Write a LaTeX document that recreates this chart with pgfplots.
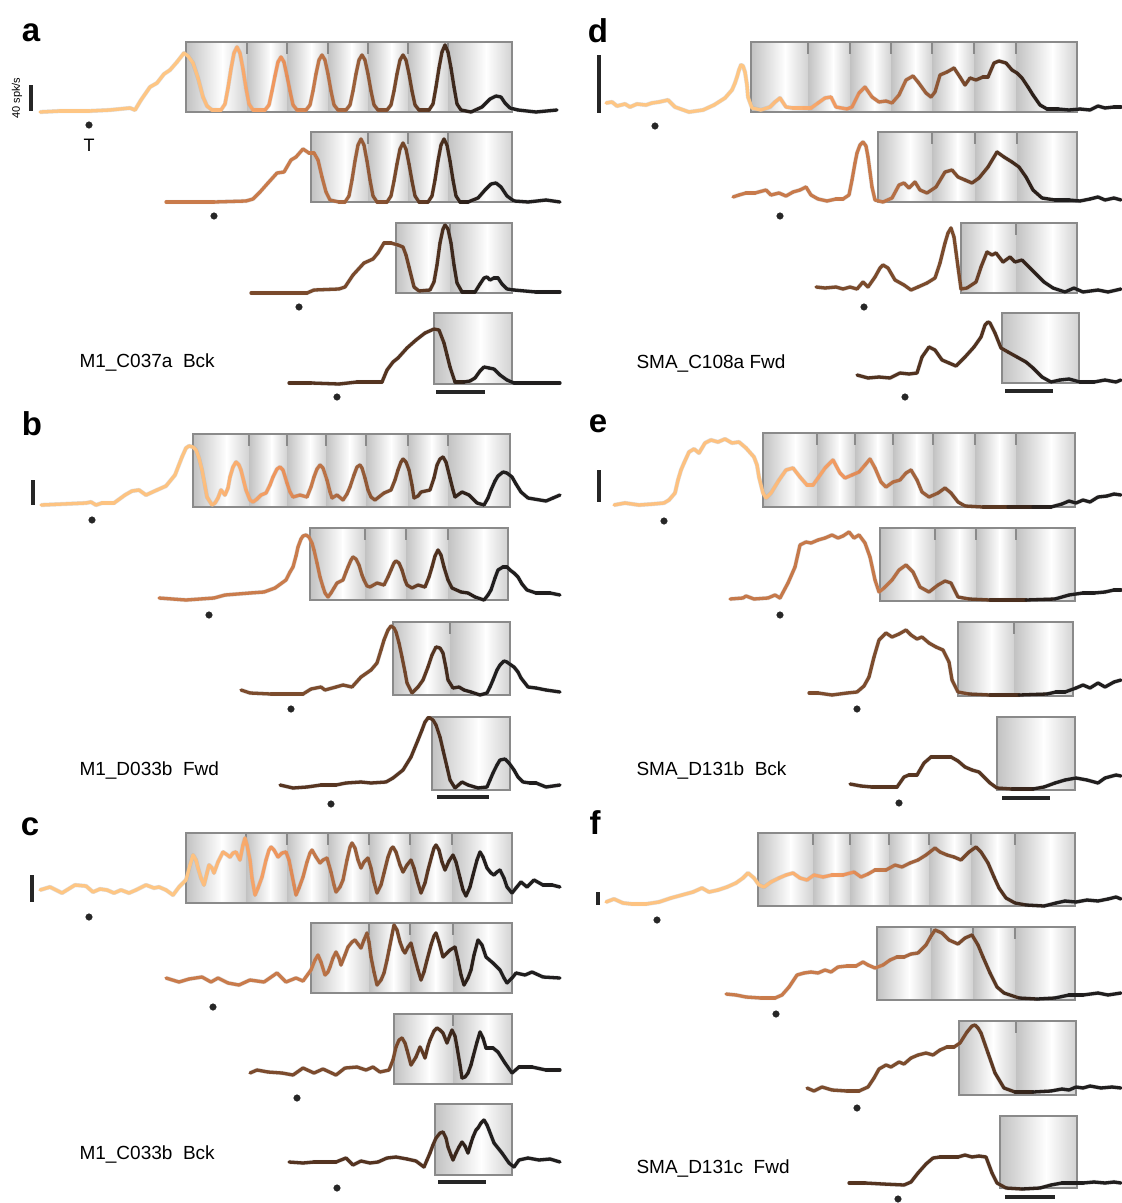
\documentclass[border=0pt]{standalone}
\usepackage{pgfplots}
\usepackage{pgfplotstable}
\pgfplotsset{compat=1.18}
\usepackage{fontspec}
\setmainfont{Liberation Sans}

\definecolor{boxL}{RGB}{194,194,194}
\definecolor{boxR}{RGB}{210,210,210}
\definecolor{boxedge}{RGB}{138,138,138}
\definecolor{semband}{RGB}{175,175,178}

% ---------- firing-rate traces (x: time, y: rate, both in figure units) ----------
\pgfplotstableread[row sep=\\]{x y\\
40 112\\ 60 111\\ 89 111\\ 110 110\\ 130 108\\ 135 110\\ 141 100\\ 150 87\\ 157 83\\ 164 74\\ 170 70\\ 177 62\\ 184 53\\ 188 56\\ 193 63\\ 198 78\\ 203 97\\ 207 106\\ 212 110\\
221 110\\ 225 104\\ 228 88\\ 231 69\\ 234 53\\ 237 47\\ 240 53\\ 243 69\\ 246 88\\ 249 104\\ 253 110\\
265 110\\ 269 105\\ 272 91\\ 275 76\\ 278 62\\ 281 57\\ 284 62\\ 287 76\\ 290 91\\ 293 105\\ 297 110\\
306 110\\ 310 105\\ 313 91\\ 316 74\\ 319 60\\ 322 55\\ 325 60\\ 328 74\\ 331 91\\ 334 105\\ 338 110\\
346 110\\ 350 105\\ 353 91\\ 356 74\\ 359 60\\ 362 55\\ 365 60\\ 368 74\\ 371 91\\ 374 105\\ 378 110\\
387 110\\ 391 105\\ 394 91\\ 397 74\\ 400 60\\ 403 55\\ 406 60\\ 409 74\\ 412 91\\ 415 105\\ 419 110\\
429 110\\ 433 104\\ 436 87\\ 439 68\\ 442 52\\ 445 45\\ 448 52\\ 451 68\\ 454 87\\ 457 104\\ 461 110\\
471 112\\ 482 107\\ 490 99\\ 496 96\\ 501 97\\ 505 103\\ 510 108\\ 518 110\\ 536 112\\ 557 110\\
}\aA
\pgfplotstableread[row sep=\\]{x y\\
166 202\\ 214 202\\ 246 201\\ 253 199\\ 260 192\\ 268 183\\ 277 173\\ 284 172\\ 291 160\\ 296 157\\ 303 149\\ 309 153\\ 314 153\\ 318 160\\ 322 177\\ 326 192\\ 330 200\\ 339 202\\
345 202\\ 349 196\\ 352 180\\ 355 161\\ 358 145\\ 361 139\\ 364 145\\ 367 161\\ 370 180\\ 373 196\\ 377 202\\
387 202\\ 391 196\\ 394 181\\ 397 164\\ 400 149\\ 403 143\\ 406 149\\ 409 164\\ 412 181\\ 415 196\\ 419 202\\
428 202\\ 432 196\\ 435 180\\ 438 161\\ 441 145\\ 444 139\\ 447 145\\ 450 161\\ 453 180\\ 456 196\\ 460 202\\
468 202\\ 478 198\\ 485 190\\ 491 184\\ 496 183\\ 501 187\\ 507 196\\ 514 201\\ 528 202\\ 546 200\\ 560 202\\
}\aB
\pgfplotstableread[row sep=\\]{x y\\
251 293\\ 307 293\\ 314 290\\ 339 289\\ 345 287\\ 353 275\\ 364 263\\ 373 259\\ 378 253\\ 384 243\\ 391 243\\ 398 245\\ 403 247\\ 406 255\\ 409 267\\ 414 287\\ 419 291\\ 430 290\\ 434 282\\ 437 265\\ 440 243\\ 443 229\\ 445 225\\ 448 229\\ 451 243\\ 454 265\\ 457 283\\ 462 292\\ 475 292\\ 480 284\\ 484 278\\ 487 277\\ 490 280\\ 494 278\\ 498 278\\ 502 284\\ 507 289\\ 514 290\\ 536 292\\ 560 292\\
}\aC
\pgfplotstableread[row sep=\\]{x y\\
289 383\\ 311 383\\ 339 384\\ 357 382\\ 382 382\\ 387 370\\ 393 362\\ 398 358\\ 407 348\\ 416 340\\ 425 333\\ 434 329\\ 439 330\\ 444 343\\ 447 355\\ 450 367\\ 455 382\\ 464 382\\ 470 381\\ 475 378\\ 480 371\\ 484 367\\ 489 368\\ 494 369\\ 500 375\\ 507 380\\ 514 383\\ 560 383\\
}\aD
\pgfplotstableread[row sep=\\]{x y\\
41 505\\ 86 503\\ 91 502\\ 96 505\\ 102 503\\ 114 503\\ 125 495\\ 132 491\\ 139 490\\ 146 495\\ 157 490\\ 166 486\\ 175 475\\ 182 457\\ 186 448\\ 189 446\\ 193 447\\ 196 450\\ 199 458\\ 202 470\\ 205 486\\ 207 497\\ 212 505\\ 215 503\\ 218 498\\ 221 490\\ 225 495\\ 228 488\\ 230 477\\ 233 467\\ 236 462\\ 239 465\\ 241 470\\ 244 482\\ 246 490\\ 250 500\\ 253 502\\ 257 499\\ 261 495\\ 266 493\\ 270 485\\ 273 477\\ 277 469\\ 280 467\\ 283 470\\ 287 483\\ 290 492\\ 293 497\\ 300 495\\ 307 497\\ 311 487\\ 314 477\\ 317 469\\ 320 465\\ 323 468\\ 327 480\\ 330 492\\ 332 498\\ 337 495\\ 343 500\\ 347 494\\ 350 487\\ 354 475\\ 357 467\\ 360 465\\ 362 468\\ 365 478\\ 368 490\\ 371 497\\ 375 500\\ 384 493\\ 391 490\\ 395 480\\ 398 470\\ 401 462\\ 403 459\\ 406 462\\ 409 470\\ 412 485\\ 414 498\\ 418 496\\ 421 492\\ 430 490\\ 434 478\\ 437 465\\ 440 459\\ 443 457\\ 446 462\\ 450 478\\ 453 490\\ 455 497\\ 462 492\\ 469 495\\ 477 503\\ 484 505\\ 488 498\\ 491 490\\ 495 481\\ 498 476\\ 503 472\\ 507 473\\ 512 477\\ 516 484\\ 521 492\\ 528 498\\ 546 501\\ 553 498\\ 560 495\\
}\bA
\pgfplotstableread[row sep=\\]{x y\\
159 598\\ 186 600\\ 214 598\\ 225 595\\ 250 593\\ 264 592\\ 275 588\\ 286 580\\ 290 572\\ 293 567\\ 296 556\\ 298 547\\ 301 539\\ 303 536\\ 306 535\\ 309 537\\ 312 543\\ 314 550\\ 317 563\\ 320 577\\ 323 587\\ 325 593\\ 328 597\\ 331 593\\ 334 588\\ 337 583\\ 343 580\\ 346 572\\ 348 567\\ 351 560\\ 353 557\\ 356 559\\ 359 565\\ 362 575\\ 364 580\\ 367 586\\ 370 587\\ 377 583\\ 384 585\\ 388 577\\ 391 570\\ 394 563\\ 396 561\\ 399 563\\ 402 570\\ 405 580\\ 407 585\\ 412 588\\ 418 585\\ 425 587\\ 429 577\\ 432 567\\ 435 556\\ 438 550\\ 441 555\\ 444 567\\ 448 580\\ 452 588\\ 461 592\\ 468 593\\ 475 597\\ 484 600\\ 488 595\\ 491 590\\ 495 578\\ 498 570\\ 503 567\\ 507 567\\ 510 570\\ 514 573\\ 518 577\\ 522 584\\ 527 590\\ 536 593\\ 550 593\\ 560 595\\
}\bB
\pgfplotstableread[row sep=\\]{x y\\
241 690\\ 250 693\\ 271 694\\ 303 694\\ 311 689\\ 321 687\\ 325 690\\ 336 687\\ 343 685\\ 352 687\\ 361 677\\ 371 670\\ 377 663\\ 381 650\\ 384 640\\ 388 630\\ 391 626\\ 394 628\\ 396 632\\ 399 643\\ 402 657\\ 405 672\\ 407 683\\ 412 693\\ 418 687\\ 423 680\\ 428 667\\ 432 655\\ 436 647\\ 440 648\\ 443 653\\ 446 668\\ 448 680\\ 453 688\\ 459 687\\ 464 690\\ 471 692\\ 480 695\\ 487 693\\ 490 687\\ 493 680\\ 497 670\\ 500 665\\ 504 661\\ 507 662\\ 511 665\\ 514 667\\ 518 672\\ 521 678\\ 528 687\\ 536 688\\ 546 690\\ 560 692\\
}\bC
\pgfplotstableread[row sep=\\]{x y\\
280 785\\ 293 788\\ 307 787\\ 321 785\\ 336 785\\ 346 783\\ 361 782\\ 371 783\\ 386 782\\ 393 778\\ 403 770\\ 411 757\\ 418 740\\ 422 730\\ 425 722\\ 428 718\\ 430 718\\ 433 720\\ 436 725\\ 440 737\\ 443 750\\ 447 767\\ 450 780\\ 455 788\\ 462 782\\ 468 785\\ 478 788\\ 487 787\\ 490 780\\ 493 773\\ 497 765\\ 500 760\\ 505 759\\ 509 763\\ 514 770\\ 518 777\\ 523 782\\ 530 783\\ 536 783\\ 546 787\\ 560 785\\
}\bD
\pgfplotstableread[row sep=\\]{x y\\
40 890\\ 50 887\\ 62 893\\ 75 885\\ 86 886\\ 93 892\\ 100 889\\ 107 890\\ 114 893\\ 121 890\\ 129 893\\ 136 890\\ 146 885\\ 154 888\\ 159 887\\ 166 890\\ 173 895\\ 179 887\\ 186 880\\ 190 865\\ 193 855\\ 196 860\\ 198 868\\ 201 878\\ 204 885\\ 207 873\\ 209 865\\ 212 868\\ 214 873\\ 218 862\\ 223 852\\ 226 854\\ 230 857\\ 233 853\\ 236 852\\ 238 856\\ 240 860\\ 243 845\\ 245 838\\ 247 845\\ 250 860\\ 252 878\\ 255 895\\ 258 888\\ 262 877\\ 266 860\\ 269 850\\ 271 847\\ 274 850\\ 278 857\\ 282 853\\ 286 852\\ 289 860\\ 291 870\\ 294 885\\ 296 895\\ 299 888\\ 303 877\\ 307 862\\ 310 853\\ 312 850\\ 316 857\\ 320 863\\ 323 860\\ 327 858\\ 331 872\\ 334 885\\ 336 892\\ 340 887\\ 343 880\\ 347 860\\ 350 847\\ 352 843\\ 355 848\\ 358 860\\ 361 868\\ 364 862\\ 368 858\\ 371 868\\ 374 882\\ 377 893\\ 381 885\\ 384 873\\ 388 857\\ 391 849\\ 393 847\\ 396 852\\ 400 865\\ 403 872\\ 407 865\\ 411 860\\ 414 868\\ 418 883\\ 421 893\\ 425 883\\ 428 870\\ 432 855\\ 434 848\\ 436 845\\ 439 850\\ 442 862\\ 445 870\\ 449 861\\ 453 855\\ 456 862\\ 460 878\\ 463 890\\ 466 896\\ 470 887\\ 473 875\\ 477 860\\ 480 852\\ 483 857\\ 487 868\\ 491 873\\ 494 875\\ 497 872\\ 500 870\\ 504 878\\ 507 887\\ 512 893\\ 516 888\\ 521 882\\ 527 887\\ 534 880\\ 543 885\\ 552 885\\ 560 887\\
}\cA
\pgfplotstableread[row sep=\\]{x y\\
166 978\\ 179 982\\ 189 979\\ 202 977\\ 211 982\\ 218 978\\ 228 983\\ 239 985\\ 250 980\\ 264 982\\ 277 973\\ 286 982\\ 296 978\\ 303 981\\ 311 970\\ 315 960\\ 318 955\\ 321 962\\ 325 975\\ 328 972\\ 330 967\\ 333 958\\ 336 952\\ 339 958\\ 341 965\\ 345 955\\ 348 947\\ 352 942\\ 355 940\\ 358 944\\ 361 948\\ 364 940\\ 367 933\\ 369 942\\ 371 957\\ 374 972\\ 377 985\\ 381 980\\ 384 973\\ 387 960\\ 389 950\\ 392 935\\ 394 925\\ 397 930\\ 400 942\\ 403 950\\ 405 953\\ 408 947\\ 411 943\\ 414 955\\ 418 970\\ 421 980\\ 424 972\\ 427 960\\ 431 945\\ 434 936\\ 436 933\\ 439 942\\ 443 957\\ 447 953\\ 450 950\\ 455 947\\ 458 960\\ 461 975\\ 464 985\\ 468 978\\ 471 970\\ 474 955\\ 478 940\\ 482 945\\ 486 957\\ 493 963\\ 500 970\\ 504 978\\ 507 983\\ 512 978\\ 516 973\\ 525 975\\ 532 972\\ 543 977\\ 560 978\\
}\cB
\pgfplotstableread[row sep=\\]{x y\\
250 1073\\ 257 1070\\ 268 1072\\ 282 1073\\ 293 1075\\ 303 1068\\ 314 1073\\ 323 1069\\ 336 1075\\ 345 1068\\ 357 1067\\ 366 1070\\ 373 1067\\ 380 1072\\ 389 1070\\ 393 1060\\ 396 1047\\ 399 1040\\ 402 1038\\ 405 1043\\ 407 1050\\ 411 1065\\ 416 1057\\ 420 1047\\ 423 1053\\ 425 1058\\ 428 1046\\ 430 1040\\ 434 1031\\ 437 1028\\ 440 1030\\ 443 1033\\ 447 1043\\ 450 1035\\ 452 1030\\ 455 1036\\ 457 1047\\ 460 1065\\ 462 1078\\ 465 1077\\ 468 1073\\ 471 1065\\ 473 1057\\ 477 1042\\ 480 1032\\ 483 1038\\ 486 1048\\ 493 1048\\ 498 1052\\ 505 1063\\ 512 1073\\ 519 1067\\ 532 1067\\ 546 1070\\ 560 1070\\
}\cC
\pgfplotstableread[row sep=\\]{x y\\
289 1162\\ 303 1163\\ 314 1162\\ 325 1162\\ 336 1162\\ 346 1158\\ 353 1165\\ 361 1161\\ 370 1163\\ 378 1162\\ 387 1158\\ 396 1157\\ 407 1159\\ 416 1161\\ 424 1167\\ 427 1160\\ 430 1153\\ 433 1145\\ 436 1138\\ 440 1133\\ 443 1132\\ 446 1138\\ 448 1147\\ 451 1155\\ 453 1160\\ 456 1153\\ 459 1147\\ 462 1142\\ 465 1146\\ 468 1153\\ 471 1143\\ 473 1137\\ 476 1130\\ 478 1128\\ 481 1123\\ 484 1120\\ 487 1125\\ 489 1130\\ 494 1143\\ 502 1153\\ 509 1163\\ 514 1167\\ 519 1160\\ 528 1158\\ 539 1160\\ 550 1159\\ 560 1162\\
}\cD
\pgfplotstableread[row sep=\\]{x y\\
606 103\\ 612 102\\ 617 106\\ 625 104\\ 630 107\\ 637 104\\ 646 105\\ 652 103\\ 659 102\\ 668 100\\ 675 107\\ 689 112\\ 703 110\\ 714 105\\ 725 98\\ 732 90\\ 735 83\\ 737 77\\ 739 70\\ 741 65\\ 743 66\\ 745 72\\ 747 85\\ 748 97\\ 752 108\\ 761 110\\ 770 107\\ 775 102\\ 780 98\\ 786 107\\ 793 108\\ 804 108\\ 811 108\\ 818 103\\ 825 98\\ 831 97\\ 836 107\\ 847 109\\ 852 107\\ 859 93\\ 865 87\\ 872 97\\ 879 102\\ 886 101\\ 892 103\\ 899 95\\ 906 80\\ 913 76\\ 918 82\\ 926 93\\ 931 97\\ 935 92\\ 940 75\\ 947 72\\ 954 68\\ 960 77\\ 965 85\\ 970 78\\ 976 80\\ 983 77\\ 988 77\\ 994 63\\ 999 61\\ 1006 63\\ 1012 70\\ 1017 73\\ 1022 78\\ 1028 87\\ 1033 95\\ 1040 105\\ 1047 109\\ 1058 109\\ 1069 110\\ 1080 109\\ 1090 110\\ 1098 106\\ 1105 108\\ 1114 107\\ 1121 107\\
}\dA
\pgfplotstableread[row sep=\\]{x y\\
733 197\\ 739 195\\ 746 193\\ 755 193\\ 766 190\\ 771 195\\ 779 193\\ 786 196\\ 793 192\\ 800 190\\ 806 187\\ 811 195\\ 818 199\\ 827 201\\ 836 199\\ 843 199\\ 849 195\\ 852 180\\ 855 163\\ 857 153\\ 860 145\\ 863 142\\ 866 146\\ 868 157\\ 870 172\\ 872 187\\ 875 200\\ 883 202\\ 892 198\\ 899 185\\ 904 183\\ 909 188\\ 915 182\\ 920 190\\ 927 193\\ 936 187\\ 945 172\\ 952 170\\ 958 177\\ 965 180\\ 972 183\\ 979 178\\ 988 167\\ 997 152\\ 1004 157\\ 1012 162\\ 1019 167\\ 1026 177\\ 1033 190\\ 1042 198\\ 1055 200\\ 1069 200\\ 1080 201\\ 1090 199\\ 1098 197\\ 1105 200\\ 1114 198\\ 1121 200\\
}\dB
\pgfplotstableread[row sep=\\]{x y\\
816 287\\ 825 288\\ 836 287\\ 843 289\\ 850 287\\ 857 289\\ 863 282\\ 868 287\\ 875 277\\ 880 268\\ 883 265\\ 888 268\\ 895 280\\ 904 285\\ 911 290\\ 918 287\\ 927 283\\ 935 278\\ 940 263\\ 945 243\\ 948 233\\ 951 228\\ 954 237\\ 956 252\\ 958 267\\ 961 289\\ 967 288\\ 976 282\\ 981 267\\ 987 252\\ 992 255\\ 996 253\\ 1003 262\\ 1010 257\\ 1015 262\\ 1022 260\\ 1030 268\\ 1037 275\\ 1044 282\\ 1053 288\\ 1065 292\\ 1074 288\\ 1083 292\\ 1098 290\\ 1108 292\\ 1121 289\\
}\dC
\pgfplotstableread[row sep=\\]{x y\\
857 375\\ 868 378\\ 879 377\\ 890 378\\ 900 373\\ 909 374\\ 917 373\\ 922 357\\ 929 347\\ 935 350\\ 942 360\\ 949 363\\ 956 366\\ 965 357\\ 974 347\\ 981 337\\ 985 325\\ 988 322\\ 990 323\\ 995 333\\ 1001 348\\ 1008 352\\ 1017 357\\ 1026 362\\ 1033 368\\ 1042 377\\ 1051 382\\ 1060 380\\ 1069 379\\ 1080 382\\ 1094 382\\ 1105 380\\ 1116 382\\ 1121 380\\
}\dD
\pgfplotstableread[row sep=\\]{x y\\
614 505\\ 625 503\\ 639 505\\ 653 504\\ 664 503\\ 669 500\\ 675 493\\ 678 480\\ 681 470\\ 684 463\\ 689 452\\ 694 449\\ 699 453\\ 705 443\\ 711 440\\ 718 442\\ 725 439\\ 732 443\\ 739 442\\ 746 448\\ 754 457\\ 757 465\\ 759 477\\ 763 493\\ 766 498\\ 771 493\\ 779 480\\ 786 470\\ 793 468\\ 800 477\\ 807 485\\ 813 485\\ 818 478\\ 825 468\\ 833 460\\ 840 473\\ 845 478\\ 852 475\\ 859 472\\ 865 465\\ 870 459\\ 875 468\\ 881 482\\ 886 487\\ 893 482\\ 900 480\\ 906 473\\ 911 470\\ 917 480\\ 922 492\\ 929 497\\ 938 493\\ 945 488\\ 951 493\\ 958 502\\ 965 506\\ 983 507\\ 1008 507\\ 1033 507\\ 1051 507\\ 1062 504\\ 1069 501\\ 1076 503\\ 1083 500\\ 1090 502\\ 1098 497\\ 1107 496\\ 1114 494\\ 1121 495\\
}\eA
\pgfplotstableread[row sep=\\]{x y\\
730 599\\ 743 598\\ 746 596\\ 754 599\\ 768 598\\ 775 595\\ 780 598\\ 788 583\\ 795 567\\ 800 545\\ 806 542\\ 811 543\\ 818 540\\ 825 538\\ 832 535\\ 838 538\\ 843 536\\ 849 532\\ 854 538\\ 859 535\\ 865 543\\ 870 557\\ 875 580\\ 879 592\\ 884 588\\ 892 580\\ 899 570\\ 906 565\\ 913 572\\ 920 587\\ 929 592\\ 938 585\\ 945 581\\ 951 583\\ 958 597\\ 969 599\\ 990 600\\ 1026 600\\ 1055 599\\ 1069 595\\ 1083 593\\ 1094 593\\ 1105 592\\ 1114 590\\ 1121 590\\
}\eB
\pgfplotstableread[row sep=\\]{x y\\
809 693\\ 818 693\\ 832 695\\ 847 693\\ 857 692\\ 864 686\\ 869 677\\ 874 657\\ 879 640\\ 886 633\\ 892 637\\ 899 634\\ 906 630\\ 911 635\\ 917 639\\ 922 637\\ 929 643\\ 936 647\\ 943 650\\ 949 662\\ 952 680\\ 958 692\\ 969 694\\ 990 695\\ 1019 695\\ 1047 694\\ 1056 692\\ 1065 692\\ 1076 688\\ 1083 685\\ 1090 688\\ 1098 683\\ 1105 687\\ 1114 682\\ 1121 680\\
}\eC
\pgfplotstableread[row sep=\\]{x y\\
850 784\\ 861 786\\ 872 787\\ 886 787\\ 897 787\\ 904 777\\ 909 775\\ 917 775\\ 924 763\\ 931 757\\ 940 757\\ 951 757\\ 958 761\\ 965 767\\ 972 770\\ 979 772\\ 985 778\\ 990 783\\ 997 788\\ 1012 789\\ 1033 789\\ 1044 787\\ 1055 783\\ 1065 780\\ 1076 778\\ 1087 780\\ 1098 783\\ 1105 778\\ 1116 775\\ 1121 776\\
}\eD
\pgfplotstableread[row sep=\\]{x y\\
606 902\\ 614 899\\ 623 903\\ 632 904\\ 646 904\\ 659 902\\ 671 898\\ 682 895\\ 693 892\\ 702 888\\ 709 892\\ 718 890\\ 727 887\\ 736 883\\ 743 878\\ 748 873\\ 754 878\\ 759 885\\ 764 887\\ 771 882\\ 779 878\\ 786 875\\ 793 873\\ 800 878\\ 807 880\\ 814 875\\ 823 877\\ 832 875\\ 843 875\\ 854 872\\ 861 877\\ 868 874\\ 875 870\\ 886 870\\ 895 865\\ 902 867\\ 910 863\\ 918 860\\ 926 855\\ 935 848\\ 940 852\\ 947 855\\ 954 857\\ 961 860\\ 969 852\\ 976 847\\ 981 852\\ 988 863\\ 994 877\\ 999 888\\ 1006 898\\ 1015 903\\ 1026 905\\ 1044 906\\ 1056 903\\ 1065 901\\ 1076 902\\ 1087 900\\ 1098 901\\ 1108 899\\ 1116 897\\ 1121 899\\
}\fA
\pgfplotstableread[row sep=\\]{x y\\
726 994\\ 736 995\\ 746 997\\ 761 998\\ 775 998\\ 782 995\\ 789 987\\ 797 975\\ 804 973\\ 811 972\\ 818 973\\ 825 970\\ 831 972\\ 838 967\\ 847 966\\ 856 966\\ 863 962\\ 868 965\\ 875 968\\ 883 965\\ 890 960\\ 897 957\\ 904 957\\ 911 954\\ 918 953\\ 926 945\\ 931 936\\ 935 930\\ 942 933\\ 949 940\\ 958 944\\ 965 938\\ 972 935\\ 978 945\\ 983 957\\ 990 973\\ 997 987\\ 1004 993\\ 1019 998\\ 1037 999\\ 1055 998\\ 1069 995\\ 1083 995\\ 1098 993\\ 1108 995\\ 1121 993\\
}\fB
\pgfplotstableread[row sep=\\]{x y\\
807 1088\\ 814 1091\\ 822 1087\\ 832 1090\\ 847 1091\\ 859 1091\\ 868 1087\\ 874 1078\\ 879 1069\\ 886 1065\\ 891 1067\\ 899 1062\\ 904 1064\\ 911 1058\\ 918 1055\\ 926 1053\\ 933 1055\\ 940 1050\\ 947 1047\\ 954 1047\\ 960 1043\\ 967 1032\\ 972 1026\\ 975 1025\\ 978 1028\\ 981 1033\\ 988 1053\\ 995 1073\\ 1004 1088\\ 1015 1092\\ 1033 1092\\ 1051 1091\\ 1062 1089\\ 1069 1090\\ 1076 1087\\ 1083 1088\\ 1090 1086\\ 1101 1088\\ 1112 1087\\ 1121 1088\\
}\fC
\pgfplotstableread[row sep=\\]{x y\\
849 1183\\ 865 1183\\ 883 1184\\ 904 1185\\ 911 1182\\ 918 1173\\ 926 1164\\ 933 1158\\ 940 1157\\ 951 1157\\ 958 1157\\ 965 1155\\ 972 1157\\ 979 1156\\ 986 1157\\ 992 1173\\ 997 1183\\ 1006 1188\\ 1022 1189\\ 1040 1188\\ 1051 1185\\ 1062 1183\\ 1073 1183\\ 1083 1183\\ 1094 1182\\ 1105 1183\\ 1114 1182\\ 1121 1183\\
}\fD

% ---------- drawing helpers ----------
% one shaded cycle of a task epoch: x0, x1, top, bottom
% (darker just after the cycle mark, brightest at about 60 % of the cycle)
\newcommand\cyc[4]{%
  \pgfmathsetmacro\xmid{#1+0.6*(#2-#1)}%
  \addplot[draw=none, left color=boxL, right color=white] coordinates {(#1,#3) (\xmid,#3) (\xmid,#4) (#1,#4)} -- cycle;
  \addplot[draw=none, left color=white, right color=boxR] coordinates {(\xmid-0.3,#3) (#2,#3) (#2,#4) (\xmid-0.3,#4)} -- cycle;}
% epoch outline
\newcommand\epoch[4]{\addplot[draw=boxedge, line width=2pt] coordinates {(#1,#3) (#2,#3) (#2,#4) (#1,#4)} -- cycle;}
% cycle boundary mark hanging from the top edge
\newcommand\cmark[3]{\addplot[draw=boxedge, line width=2pt] coordinates {(#1,#2) (#1,#3)};}
% a trace with its s.e.m. band: table, start of epoch, column offset
\newcommand\trace[3]{%
  \addplot[semband, line width=4.3pt, line join=round, opacity=0.4] table[x=x, y=y] {#1};
  \addplot[mesh, line width=3.3pt, line cap=round, line join=round, point meta={min(max(\thisrow{x},#2),490+#3)-#3}] table[x=x, y=y] {#1};}

\begin{document}
\begin{tikzpicture}
\begin{axis}[
  width=1122pt, height=1203pt, scale only axis,
  xmin=0, xmax=1122, ymin=0, ymax=1203, y dir=reverse,
  hide axis, clip=false,
  colormap={cycles}{rgb255(186pt)=(254,198,132); rgb255(240pt)=(249,172,110); rgb255(280pt)=(238,148,92); rgb255(311pt)=(201,123,75); rgb255(350pt)=(160,98,60); rgb255(396pt)=(122,74,44); rgb255(434pt)=(85,52,32); rgb255(465pt)=(45,32,25); rgb255(490pt)=(32,30,30)},
  point meta min=186, point meta max=490,
]
% ===== epoch boxes, left column =====
\cyc{186}{247}{42}{112}\cyc{247}{287}{42}{112}\cyc{287}{328}{42}{112}\cyc{328}{368}{42}{112}\cyc{368}{408}{42}{112}\cyc{408}{448}{42}{112}\cyc{448}{512}{42}{112}
\epoch{186}{512}{42}{112}
\cmark{247}{42}{54}\cmark{287}{42}{54}\cmark{328}{42}{54}\cmark{368}{42}{54}\cmark{408}{42}{54}\cmark{448}{42}{54}
\cyc{311}{368}{132}{202}\cyc{368}{408}{132}{202}\cyc{408}{448}{132}{202}\cyc{448}{512}{132}{202}
\epoch{311}{512}{132}{202}
\cmark{368}{132}{144}\cmark{408}{132}{144}\cmark{448}{132}{144}
\cyc{396}{450}{223}{293}\cyc{450}{512}{223}{293}
\epoch{396}{512}{223}{293}
\cmark{450}{223}{235}
\cyc{434}{512}{313}{384}
\epoch{434}{512}{313}{384}

\cyc{193}{249}{434}{507}\cyc{249}{287}{434}{507}\cyc{287}{326}{434}{507}\cyc{326}{366}{434}{507}\cyc{366}{408}{434}{507}\cyc{408}{448}{434}{507}\cyc{448}{510}{434}{507}
\epoch{193}{510}{434}{507}
\cmark{249}{434}{446}\cmark{287}{434}{446}\cmark{326}{434}{446}\cmark{366}{434}{446}\cmark{408}{434}{446}\cmark{448}{434}{446}
\cyc{310}{365}{528}{600}\cyc{365}{406}{528}{600}\cyc{406}{448}{528}{600}\cyc{448}{508}{528}{600}
\epoch{310}{508}{528}{600}
\cmark{365}{528}{540}\cmark{406}{528}{540}\cmark{448}{528}{540}
\cyc{393}{450}{622}{695}\cyc{450}{510}{622}{695}
\epoch{393}{510}{622}{695}
\cmark{450}{622}{634}
\cyc{432}{510}{717}{790}
\epoch{432}{510}{717}{790}

\cyc{186}{246}{833}{903}\cyc{246}{287}{833}{903}\cyc{287}{328}{833}{903}\cyc{328}{369}{833}{903}\cyc{369}{410}{833}{903}\cyc{410}{452}{833}{903}\cyc{452}{512}{833}{903}
\epoch{186}{512}{833}{903}
\cmark{246}{833}{845}\cmark{287}{833}{845}\cmark{328}{833}{845}\cmark{369}{833}{845}\cmark{410}{833}{845}\cmark{452}{833}{845}
\cyc{311}{369}{923}{993}\cyc{369}{410}{923}{993}\cyc{410}{453}{923}{993}\cyc{453}{512}{923}{993}
\epoch{311}{512}{923}{993}
\cmark{369}{923}{935}\cmark{410}{923}{935}\cmark{453}{923}{935}
\cyc{394}{453}{1014}{1084}\cyc{453}{512}{1014}{1084}
\epoch{394}{512}{1014}{1084}
\cmark{453}{1014}{1026}
\cyc{435}{512}{1104}{1175}
\epoch{435}{512}{1104}{1175}

% ===== epoch boxes, right column =====
\cyc{751}{808}{42}{112}\cyc{808}{850}{42}{112}\cyc{850}{891}{42}{112}\cyc{891}{932}{42}{112}\cyc{932}{974}{42}{112}\cyc{974}{1016}{42}{112}\cyc{1016}{1077}{42}{112}
\epoch{751}{1077}{42}{112}
\cmark{808}{42}{54}\cmark{850}{42}{54}\cmark{891}{42}{54}\cmark{932}{42}{54}\cmark{974}{42}{54}\cmark{1016}{42}{54}
\cyc{878}{932}{132}{202}\cyc{932}{975}{132}{202}\cyc{975}{1017}{132}{202}\cyc{1017}{1077}{132}{202}
\epoch{878}{1077}{132}{202}
\cmark{932}{132}{144}\cmark{975}{132}{144}\cmark{1017}{132}{144}
\cyc{961}{1016}{223}{293}\cyc{1016}{1077}{223}{293}
\epoch{961}{1077}{223}{293}
\cmark{1016}{223}{235}
\cyc{1002}{1079}{313}{383}
\epoch{1002}{1079}{313}{383}

\cyc{763}{817}{433}{507}\cyc{817}{855}{433}{507}\cyc{855}{893}{433}{507}\cyc{893}{933}{433}{507}\cyc{933}{975}{433}{507}\cyc{975}{1016}{433}{507}\cyc{1016}{1075}{433}{507}
\epoch{763}{1075}{433}{507}
\cmark{817}{433}{445}\cmark{855}{433}{445}\cmark{893}{433}{445}\cmark{933}{433}{445}\cmark{975}{433}{445}\cmark{1016}{433}{445}
\cyc{880}{935}{528}{601}\cyc{935}{976}{528}{601}\cyc{976}{1016}{528}{601}\cyc{1016}{1075}{528}{601}
\epoch{880}{1075}{528}{601}
\cmark{935}{528}{540}\cmark{976}{528}{540}\cmark{1016}{528}{540}
\cyc{958}{1014}{622}{696}\cyc{1014}{1073}{622}{696}
\epoch{958}{1073}{622}{696}
\cmark{1014}{622}{634}
\cyc{997}{1075}{717}{790}
\epoch{997}{1075}{717}{790}

\cyc{758}{813}{833}{906}\cyc{813}{850}{833}{906}\cyc{850}{889}{833}{906}\cyc{889}{929}{833}{906}\cyc{929}{971}{833}{906}\cyc{971}{1015}{833}{906}\cyc{1015}{1075}{833}{906}
\epoch{758}{1075}{833}{906}
\cmark{813}{833}{845}\cmark{850}{833}{845}\cmark{889}{833}{845}\cmark{929}{833}{845}\cmark{971}{833}{845}\cmark{1015}{833}{845}
\cyc{877}{931}{927}{1000}\cyc{931}{973}{927}{1000}\cyc{973}{1015}{927}{1000}\cyc{1015}{1075}{927}{1000}
\epoch{877}{1075}{927}{1000}
\cmark{931}{927}{939}\cmark{973}{927}{939}\cmark{1015}{927}{939}
\cyc{959}{1016}{1021}{1095}\cyc{1016}{1076}{1021}{1095}
\epoch{959}{1076}{1021}{1095}
\cmark{1016}{1021}{1033}
\cyc{1000}{1077}{1116}{1188}
\epoch{1000}{1077}{1116}{1188}

% ===== traces =====
\trace{\aA}{186}{0}\trace{\aB}{311}{0}\trace{\aC}{396}{0}\trace{\aD}{434}{0}
\trace{\bA}{193}{0}\trace{\bB}{310}{0}\trace{\bC}{393}{0}\trace{\bD}{432}{0}
\trace{\cA}{186}{0}\trace{\cB}{311}{0}\trace{\cC}{394}{0}\trace{\cD}{435}{0}
\trace{\dA}{752}{566}\trace{\dB}{878}{566}\trace{\dC}{961}{566}\trace{\dD}{1002}{566}
\trace{\eA}{763}{566}\trace{\eB}{880}{566}\trace{\eC}{958}{566}\trace{\eD}{997}{566}
\trace{\fA}{758}{566}\trace{\fB}{877}{566}\trace{\fC}{959}{566}\trace{\fD}{1000}{566}

% ===== scale bars (40 spk/s) =====
\addplot[black!85, line width=3.5pt] coordinates {(31,85) (31,111)};
\addplot[black!85, line width=3.5pt] coordinates {(33,480) (33,505)};
\addplot[black!85, line width=3.5pt] coordinates {(32,875) (32,902)};
\addplot[black!85, line width=3.5pt] coordinates {(599,55) (599,113)};
\addplot[black!85, line width=3.5pt] coordinates {(599,470) (599,502)};
\addplot[black!85, line width=3.5pt] coordinates {(598,892) (598,905)};

% ===== movement-duration bars =====
\addplot[black!85, line width=4pt] coordinates {(436,392) (485,392)};
\addplot[black!85, line width=4pt] coordinates {(437,797) (489,797)};
\addplot[black!85, line width=4pt] coordinates {(438,1182) (486,1182)};
\addplot[black!85, line width=4pt] coordinates {(1005,391) (1053,391)};
\addplot[black!85, line width=4pt] coordinates {(1002,798) (1050,798)};
\addplot[black!85, line width=4pt] coordinates {(1005,1197) (1055,1197)};

% ===== target onset =====
\addplot[only marks, mark=*, mark size=3.3pt, black!85] coordinates {
 (89,125) (214,216) (299,307) (337,397)
 (92,520) (209,615) (291,709) (331,804)
 (89,917) (213,1007) (297,1098) (337,1188)
 (655,126) (780,216) (864,307) (905,397)
 (664,521) (780,615) (857,709) (899,803)
 (657,920) (776,1014) (857,1108) (898,1199)};

% ===== text =====
\node[font=\fontsize{33}{33}\selectfont\bfseries] at (axis cs:31,33) {a};
\node[font=\fontsize{33}{33}\selectfont\bfseries] at (axis cs:32,424) {b};
\node[font=\fontsize{33}{33}\selectfont\bfseries] at (axis cs:30,827) {c};
\node[font=\fontsize{33}{33}\selectfont\bfseries] at (axis cs:598,31) {d};
\node[font=\fontsize{33}{33}\selectfont\bfseries] at (axis cs:598,424) {e};
\node[font=\fontsize{33}{33}\selectfont\bfseries] at (axis cs:595,823) {f};
\node[font=\fontsize{11}{11}\selectfont, rotate=90] at (axis cs:17,98) {40 spk/s};
\node[font=\fontsize{18}{18}\selectfont] at (axis cs:89,145) {T};
\node[anchor=west, font=\fontsize{19}{19}\selectfont] at (axis cs:76,362) {M1\_C037a\ \ Bck};
\node[anchor=west, font=\fontsize{19}{19}\selectfont] at (axis cs:76,770) {M1\_D033b\ \ Fwd};
\node[anchor=west, font=\fontsize{19}{19}\selectfont] at (axis cs:76,1154) {M1\_C033b\ \ Bck};
\node[anchor=west, font=\fontsize{19}{19}\selectfont] at (axis cs:633,363) {SMA\_C108a Fwd};
\node[anchor=west, font=\fontsize{19}{19}\selectfont] at (axis cs:633,770) {SMA\_D131b\ \ Bck};
\node[anchor=west, font=\fontsize{19}{19}\selectfont] at (axis cs:633,1168) {SMA\_D131c\ \ Fwd};
\end{axis}
% the page is exactly the plotting area
\pgfresetboundingbox
\path[use as bounding box] (current axis.south west) rectangle (current axis.north east);
\end{tikzpicture}
\end{document}
